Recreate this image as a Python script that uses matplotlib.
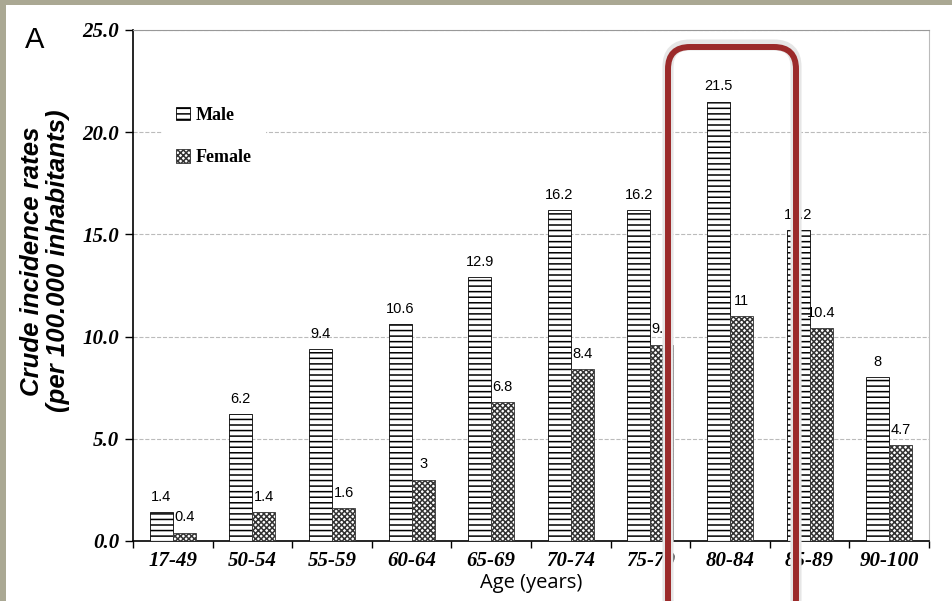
import matplotlib
matplotlib.use("Agg")
import matplotlib.pyplot as plt
import numpy as np
from matplotlib.patches import Rectangle, FancyBboxPatch
from matplotlib.transforms import IdentityTransform

ages = ["17-49", "50-54", "55-59", "60-64", "65-69", "70-74", "75-79", "80-84", "85-89", "90-100"]
male = [1.4, 6.2, 9.4, 10.6, 12.9, 16.2, 16.2, 21.5, 15.2, 8]
female = [0.4, 1.4, 1.6, 3, 6.8, 8.4, 9.6, 11, 10.4, 4.7]
yticks = [0, 5, 10, 15, 20, 25]

plt.rcParams['hatch.linewidth'] = 1.1

fig = plt.figure(figsize=(9.53, 6.01), dpi=100, facecolor='#aaa893')
# white panel of the slide
fig.patches.append(Rectangle((6/953, 0), 1, 1 - 5/601, transform=fig.transFigure,
                             facecolor='white', edgecolor='none', zorder=-10))

ax = fig.add_axes([133/953, 1 - 541/601, 796/953, 511/601])
ax.set_facecolor('white')

x = np.arange(len(ages))
w = 0.29
bm = ax.bar(x - w/2, male, w, facecolor='white', edgecolor='black', linewidth=0.6,
            hatch='---', label='Male', zorder=3)
bf = ax.bar(x + w/2, female, w, facecolor='white', edgecolor='#333333', linewidth=0.6,
            hatch='xxxxxx', label='Female', zorder=3)

for bars, vals in [(bm, male), (bf, female)]:
    for b, v in zip(bars, vals):
        ax.annotate(f"{v:g}", (b.get_x() + b.get_width()/2, v), xytext=(0, 6),
                    textcoords='offset points', ha='center', va='bottom',
                    fontsize=10.5, family='Liberation Sans', zorder=4)

ax.set_xlim(-0.5, 9.5)
ax.set_ylim(0, 25)
ax.set_yticks(yticks)
ax.set_yticklabels([f"{t:.1f}" for t in yticks], family='Liberation Serif',
                   fontweight='bold', fontstyle='italic', fontsize=15)
ax.set_xticks(x)
ax.set_xticklabels(ages, family='Liberation Serif', fontweight='bold',
                   fontstyle='italic', fontsize=15)
ax.set_xticks(np.arange(-0.5, 10, 1), minor=True)
ax.tick_params(axis='x', which='major', length=0, pad=7)
ax.tick_params(axis='x', which='minor', length=5, direction='out', width=1)
ax.tick_params(axis='y', length=6, width=1, pad=4)

ax.grid(axis='y', color='#bbbbbb', linestyle='--', linewidth=0.8, zorder=0)
ax.spines['left'].set_linewidth(1.2)
ax.spines['bottom'].set_linewidth(1.2)
ax.spines['top'].set_color('#999999')
ax.spines['right'].set_color('#bbbbbb')

ax.set_ylabel("Crude incidence rates\n(per 100.000 inhabitants)", family='Liberation Sans',
              fontweight='bold', fontstyle='italic', fontsize=18.5, linespacing=1.1)
ax.yaxis.set_label_coords(-0.079, 0.548)
ax.set_xlabel("Age (years)", family='Open Sans', fontsize=14.5)
ax.xaxis.label.set_va('center')
ax.xaxis.set_label_coords((531 - 133) / 796, -(583 - 541) / 511)

leg = ax.legend(loc='upper left', bbox_to_anchor=(0.025, 0.895), frameon=True,
                prop={'family': 'Liberation Serif', 'weight': 'bold', 'size': 13},
                handlelength=0.75, handleheight=0.75, handletextpad=0.3,
                labelspacing=1.4, borderpad=0.8)
leg.get_frame().set_facecolor('white')
leg.get_frame().set_edgecolor('none')
leg.get_frame().set_alpha(1)
leg.set_zorder(5)

fig.text(35/953, 1 - 40/601, "A", fontsize=21, family='Liberation Sans', va='center', ha='center')

# highlight box around 80-84
shadow = FancyBboxPatch((668, -20), 128, 601 - 47 + 20 + 2, boxstyle='round,pad=0,rounding_size=22',
                        transform=IdentityTransform(), facecolor='none', edgecolor='#e6e6e6',
                        linewidth=8, zorder=9)
box = FancyBboxPatch((668, -20), 128, 601 - 47 + 20, boxstyle='round,pad=0,rounding_size=22',
                     transform=IdentityTransform(), facecolor='none', edgecolor='#9b2a2a',
                     linewidth=4.3, zorder=10)
fig.patches.append(shadow)
fig.patches.append(box)

fig.savefig("out.png", dpi=100, facecolor=fig.get_facecolor())
